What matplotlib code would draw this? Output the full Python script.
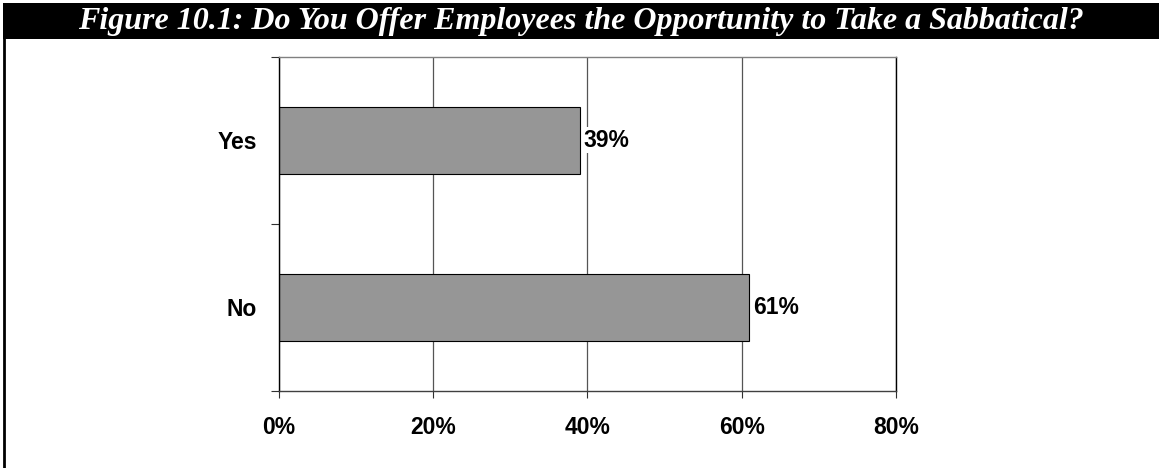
import matplotlib
matplotlib.use('Agg')
import matplotlib.pyplot as plt
from matplotlib.patches import Rectangle
from matplotlib.lines import Line2D
from matplotlib.ticker import FixedLocator, NullFormatter

# Survey answers
categories = ['Yes', 'No']
shares = [39, 61]
x_ticks = [0, 20, 40, 60, 80]
x_labels = ['0%', '20%', '40%', '60%', '80%']
title = 'Figure 10.1: Do You Offer Employees the Opportunity to Take a Sabbatical?'

plt.rcParams['font.family'] = ['Liberation Sans', 'DejaVu Sans']

fig = plt.figure(figsize=(11.59, 4.68), dpi=100)
fig.patch.set_facecolor('white')

# Black title band and left frame line
fig.patches.append(Rectangle((3 / 1159, 429 / 468), 1 - 3 / 1159, 36 / 468,
                             transform=fig.transFigure, facecolor='black',
                             edgecolor='none', zorder=0))
fig.text(0.501, 0.953, title, color='white', ha='center', va='center',
         fontsize=23, fontweight='bold', fontstyle='italic',
         family=['Liberation Serif', 'DejaVu Serif'])
fig.lines.append(Line2D([4 / 1159, 4 / 1159], [0, 429 / 468],
                        transform=fig.transFigure, color='black', lw=2))

ax = fig.add_axes([0.2403, 0.1652, 0.5328, 0.7137])

pos = list(range(len(categories)))[::-1]
ax.barh(pos, shares, height=0.4, color='#969696', edgecolor='black',
        linewidth=0.8, zorder=2)

for p, v in zip(pos, shares):
    ax.text(v + 0.45, p, f'{v}%', va='center', ha='left', fontsize=16.5,
            fontweight='bold', zorder=4,
            bbox=dict(facecolor='white', edgecolor='none', pad=1))

ax.set_xlim(0, 80)
ax.set_ylim(-0.5, len(categories) - 0.5)

ax.set_xticks(x_ticks)
ax.set_xticklabels(x_labels, fontsize=16.5, fontweight='bold')
ax.tick_params(axis='x', length=5, width=0.8, pad=13.5, color='#303030')

# category boundaries as major ticks, labels on minor ticks
ax.yaxis.set_major_locator(FixedLocator([-0.5, 0.5, 1.5]))
ax.yaxis.set_major_formatter(NullFormatter())
ax.set_yticks(pos, minor=True)
ax.set_yticklabels(categories, minor=True, fontsize=16.5, fontweight='bold')
ax.tick_params(axis='y', which='major', length=6, width=0.8, color='#303030')
ax.tick_params(axis='y', which='minor', length=0, pad=15.5)

ax.xaxis.grid(True, color='#555555', lw=0.9, zorder=1)
ax.set_axisbelow(True)

ax.spines['left'].set_color('black')
ax.spines['right'].set_color('black')
ax.spines['bottom'].set_color('#404040')
ax.spines['top'].set_color('#808080')
for s in ax.spines.values():
    s.set_linewidth(1)

fig.savefig('out.png', dpi=100)
